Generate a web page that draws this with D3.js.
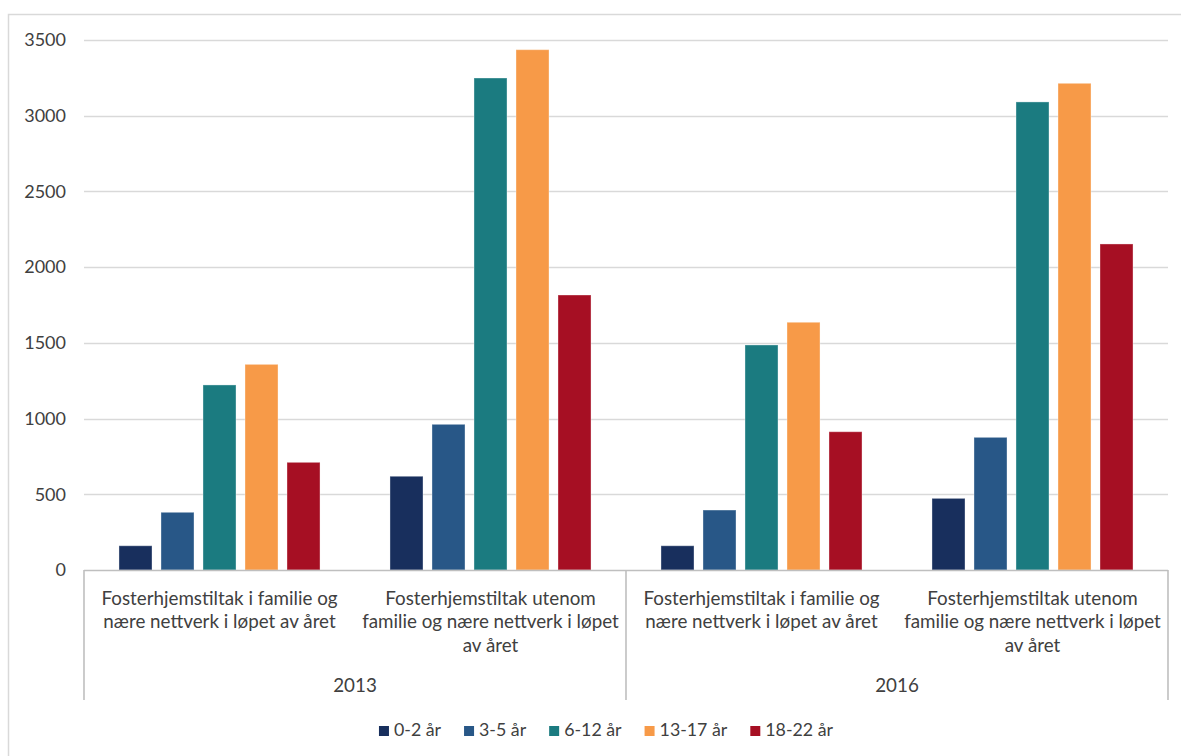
<!DOCTYPE html>
<html>
<head>
<meta charset="utf-8">
<script src="https://cdn.jsdelivr.net/npm/d3@7"></script>
<style>
  html, body { margin: 0; padding: 0; background: #fff; }
  svg { display: block; }
  text { font-family: Lato, "Open Sans", sans-serif; fill: #404040; }
</style>
</head>
<body>
<svg id="chart" width="1181" height="756"></svg>
<script>
// Years (outer category level) and measure types (inner category level)
const years = ["2013", "2016"];
const measures = [
  "Fosterhjemstiltak i familie og nære nettverk i løpet av året",
  "Fosterhjemstiltak utenom familie og nære nettverk i løpet av året"
];
// Wrapped label lines for each measure
const measureLines = [
  ["Fosterhjemstiltak i familie og", "nære nettverk i løpet av året"],
  ["Fosterhjemstiltak utenom", "familie og nære nettverk i løpet", "av året"]
];

// Age groups (series)
const ageGroups = ["0-2 år", "3-5 år", "6-12 år", "13-17 år", "18-22 år"];
const ageColors = ["#182f5d", "#285787", "#1b7b80", "#f79a48", "#a60f23"];

// Counts per age group, ordered 2013 i familie, 2013 utenom, 2016 i familie, 2016 utenom
const age0to2   = [160, 619, 160, 473];
const age3to5   = [381, 962, 396, 876];
const age6to12  = [1222, 3249, 1486, 3091];
const age13to17 = [1358, 3436, 1636, 3214];
const age18to22 = [711, 1816, 913, 2153];
const seriesValues = [age0to2, age3to5, age6to12, age13to17, age18to22];

const yTicks = [0, 500, 1000, 1500, 2000, 2500, 3000, 3500];

// Flatten year x measure into the slots along the x axis
const slots = [];
years.forEach(y => measures.forEach((m, mi) => slots.push({ year: y, measure: m, mi })));

const svg = d3.select("#chart");

const plot = { left: 84, right: 1168, top: 40, bottom: 570 };

const x0 = d3.scaleBand()
  .domain(d3.range(slots.length))
  .range([plot.left, plot.right])
  .padding(0);

const x1 = d3.scaleBand()
  .domain(ageGroups)
  .range([0, x0.bandwidth()])
  .paddingInner(0.214)
  .paddingOuter(0.833);

const y = d3.scaleLinear()
  .domain([0, 3500])
  .range([plot.bottom, plot.top]);

// Outer chart frame
svg.append("path")
  .attr("d", `M8.5,756 V14.5 H1181`)
  .attr("fill", "none")
  .attr("stroke", "#d9d9d9")
  .attr("stroke-width", 1.5);

// Horizontal gridlines
svg.append("g")
  .selectAll("line")
  .data(yTicks.filter(t => t > 0))
  .join("line")
  .attr("x1", plot.left)
  .attr("x2", plot.right)
  .attr("y1", d => Math.round(y(d)) + 0.5)
  .attr("y2", d => Math.round(y(d)) + 0.5)
  .attr("stroke", "#d9d9d9")
  .attr("stroke-width", 1.6);

// Y axis tick labels
const yAxis = d3.axisLeft(y).tickValues(yTicks).tickFormat(d3.format("d")).tickSize(0).tickPadding(18);
const gy = svg.append("g")
  .attr("transform", `translate(${plot.left},0)`)
  .call(yAxis);
gy.select(".domain").remove();
gy.selectAll("text")
  .attr("font-family", "Lato, sans-serif")
  .attr("font-size", 18)
  .attr("fill", "#404040");

// Bars
const barGroups = svg.append("g")
  .selectAll("g")
  .data(ageGroups)
  .join("g")
  .attr("fill", (d, i) => ageColors[i]);

barGroups.selectAll("rect")
  .data((d, si) => seriesValues[si].map((v, k) => ({ series: d, slot: k, value: v })))
  .join("rect")
  .attr("x", d => x0(d.slot) + x1(d.series))
  .attr("width", x1.bandwidth())
  .attr("y", d => y(d.value))
  .attr("height", d => y(0) - y(d.value))
  .attr("stroke", "rgba(255,255,255,0.35)")
  .attr("stroke-width", 1);

// Category axis: baseline and separators between years
svg.append("line")
  .attr("x1", plot.left).attr("x2", plot.right)
  .attr("y1", plot.bottom + 0.5).attr("y2", plot.bottom + 0.5)
  .attr("stroke", "#bfbfbf").attr("stroke-width", 1.6);

const yearEdges = [0, measures.length, slots.length];
svg.append("g")
  .selectAll("line")
  .data(yearEdges)
  .join("line")
  .attr("x1", d => d === slots.length ? plot.right : x0(d))
  .attr("x2", d => d === slots.length ? plot.right : x0(d))
  .attr("y1", plot.bottom)
  .attr("y2", 700)
  .attr("stroke", "#bfbfbf")
  .attr("stroke-width", 1.6);

// Inner category labels (measures)
const catFont = 18.8;
const catLabels = svg.append("g")
  .selectAll("text")
  .data(slots)
  .join("text")
  .attr("text-anchor", "middle")
  .attr("font-size", catFont)
  .attr("transform", (d, i) => `translate(${x0(i) + x0.bandwidth() / 2},605)`);
catLabels.selectAll("tspan")
  .data(d => measureLines[d.mi])
  .join("tspan")
  .attr("x", 0)
  .attr("y", (d, i) => i * 23.3)
  .text(d => d);

// Outer category labels (years)
svg.append("g")
  .selectAll("text")
  .data(years)
  .join("text")
  .attr("text-anchor", "middle")
  .attr("font-size", catFont)
  .attr("x", (d, i) => (x0(i * measures.length) + x0(i * measures.length + measures.length - 1) + x0.bandwidth()) / 2)
  .attr("y", 692)
  .text(d => d);

// Legend
const legendFont = 17.8;
const legend = svg.append("g");
const items = legend.selectAll("g")
  .data(ageGroups)
  .join("g");
items.append("rect")
  .attr("width", 10).attr("height", 10)
  .attr("y", 726)
  .attr("fill", (d, i) => ageColors[i]);
items.append("text")
  .attr("x", 15)
  .attr("y", 735.5)
  .attr("font-size", legendFont)
  .text(d => d);

// Lay legend entries out side by side, centred under the plot
const gap = 23;
let cursor = 0;
const widths = [];
items.each(function () {
  const w = 15 + d3.select(this).select("text").node().getComputedTextLength();
  widths.push(w);
});
const total = d3.sum(widths) + gap * (widths.length - 1);
const startX = 606 - total / 2;
items.attr("transform", (d, i) => {
  const tx = startX + cursor;
  cursor += widths[i] + gap;
  return `translate(${tx},0)`;
});
</script>
</body>
</html>
